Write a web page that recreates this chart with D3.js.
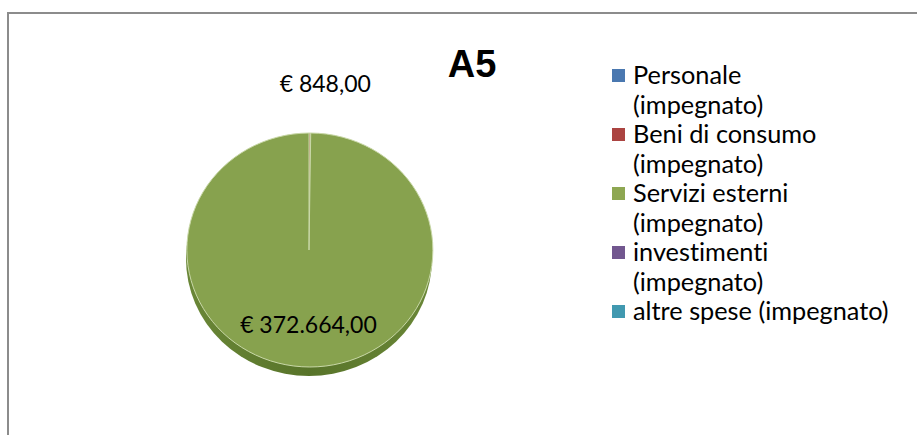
<!DOCTYPE html>
<meta charset="utf-8">
<style>

body {
  margin: 0;
  background: #fff;
}

text {
  font-family: Lato, "Open Sans", sans-serif;
  font-variant-ligatures: none;
  fill: #000;
}

</style>
<body>
<script src="https://cdn.jsdelivr.net/npm/d3@7"></script>
<script>

var width = 917,
    height = 435;

var title = "A5";

var categories = [
  "Personale (impegnato)",
  "Beni di consumo (impegnato)",
  "Servizi esterni (impegnato)",
  "investimenti (impegnato)",
  "altre spese (impegnato)"
];

// legend text as it wraps in the picture
var legendLines = [
  ["Personale", "(impegnato)"],
  ["Beni di consumo", "(impegnato)"],
  ["Servizi esterni", "(impegnato)"],
  ["investimenti", "(impegnato)"],
  ["altre spese (impegnato)"]
];

var values = [0, 848, 372664, 0, 0];

var colors = ["#4a78b0", "#ab4441", "#87a24e", "#72578f", "#4199b0"],
    legendColors = ["#4a78b0", "#ab4441", "#8ea752", "#72578f", "#4199b0"];

var euro = function(v) {
  var s = v.toFixed(2).split("."),
      i = s[0].replace(/\B(?=(\d{3})+(?!\d))/g, ".");
  return "\u20ac " + i + "," + s[1];
};

var svg = d3.select("body").append("svg")
    .attr("width", width)
    .attr("height", height);

// chart frame, runs off the right and bottom edges
svg.append("rect")
    .attr("x", 8)
    .attr("y", 13)
    .attr("width", width + 20)
    .attr("height", height + 20)
    .style("fill", "#fff")
    .style("stroke", "#8c8c8c")
    .style("stroke-width", 2);

svg.append("text")
    .attr("x", 472)
    .attr("y", 77)
    .attr("text-anchor", "middle")
    .style("font-family", "'Liberation Sans', Arial, sans-serif")
    .style("font-weight", "bold")
    .style("font-size", "38px")
    .text(title);

var cx = 309,
    cy = 250,
    rx = 123,
    ry = 117,
    depth = 9;

var defs = svg.append("defs");

var side = defs.append("linearGradient")
    .attr("id", "side")
    .attr("x1", 0).attr("x2", 1).attr("y1", 0).attr("y2", 0);
side.append("stop").attr("offset", "0%").attr("stop-color", "#6a8737");
side.append("stop").attr("offset", "50%").attr("stop-color", "#58742a");
side.append("stop").attr("offset", "100%").attr("stop-color", "#6a8737");

var pie = d3.pie()
    .sort(null)
    .value(function(d) { return d; });

var arcs = pie(values);

var arc = d3.arc()
    .innerRadius(0)
    .outerRadius(1);

var g = svg.append("g")
    .attr("transform", "translate(" + cx + "," + cy + ")");

// pie thickness
g.append("ellipse")
    .attr("cx", 0)
    .attr("cy", depth)
    .attr("rx", rx)
    .attr("ry", ry)
    .style("fill", "url(#side)");

g.append("g")
    .attr("transform", "scale(" + rx + "," + ry + ")")
  .selectAll("path")
    .data(arcs.filter(function(d) { return d.value > 0; }))
  .enter().append("path")
    .attr("d", arc)
    .style("fill", function(d) { return colors[d.index]; })
    .style("stroke", "#c9d8a8")
    .style("stroke-width", 1)
    .attr("vector-effect", "non-scaling-stroke");

// data labels
var labelPos = function(d) {
  var a = (d.startAngle + d.endAngle) / 2,
      big = d.value / d3.sum(values) > 0.5,
      k = big ? 0.64 : 1.42,
      dx = big ? 0 : 15;
  return [Math.sin(a) * rx * k + dx, -Math.cos(a) * ry * k];
};

g.selectAll(".label")
    .data(arcs.filter(function(d) { return d.value > 0; }))
  .enter().append("text")
    .attr("class", "label")
    .attr("x", function(d) { return labelPos(d)[0]; })
    .attr("y", function(d) { return labelPos(d)[1]; })
    .attr("dy", "0.35em")
    .attr("text-anchor", "middle")
    .style("font-size", "23px")
    .text(function(d) { return euro(d.value); });

// legend
var lineHeight = 29.5;

var item = svg.selectAll(".legend")
    .data(categories)
  .enter().append("g")
    .attr("class", "legend")
    .attr("transform", function(d, i) {
      var before = d3.sum(legendLines.slice(0, i), function(l) { return l.length; });
      return "translate(612," + (84 + before * lineHeight) + ")";
    });

item.append("rect")
    .attr("x", 0)
    .attr("y", -15)
    .attr("width", 13)
    .attr("height", 13)
    .style("fill", function(d, i) { return legendColors[i]; });

item.append("text")
    .attr("x", 21)
    .style("font-size", "25.3px")
  .selectAll("tspan")
    .data(function(d, i) { return legendLines[i]; })
  .enter().append("tspan")
    .attr("x", 21)
    .attr("dy", function(d, i) { return i ? lineHeight : 0; })
    .text(function(d) { return d; });

</script>
